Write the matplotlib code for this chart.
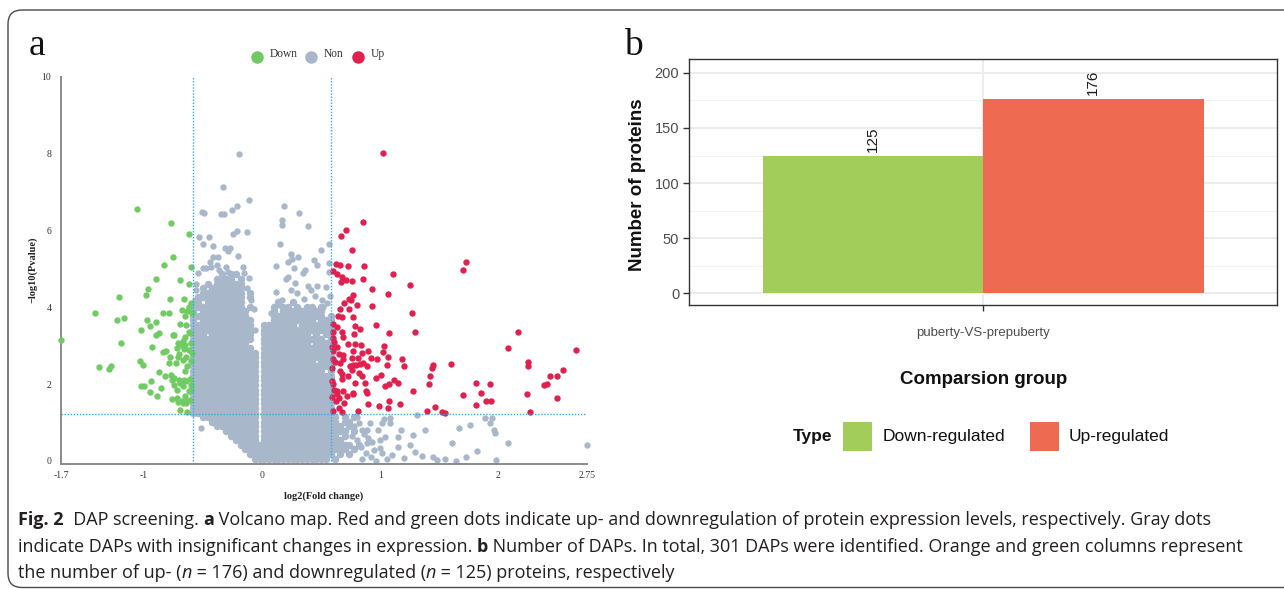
import matplotlib
matplotlib.use("Agg")
import matplotlib.pyplot as plt
from matplotlib.lines import Line2D
from matplotlib.patches import Rectangle, FancyBboxPatch
from matplotlib.transforms import IdentityTransform
from matplotlib import font_manager as fm

# ---------------- data ----------------
green_pts = [(-1.70,3.14),(-1.41,3.86),(-1.38,2.44),(-1.29,2.40),(-1.28,2.47),(-1.23,3.67),(-1.21,4.26),
    (-1.19,3.08),(-1.17,3.73),(-1.06,6.55),(-1.03,2.59),(-1.01,2.50),(-1.02,3.41),(-1.02,1.94),(-1.00,1.94),
    (-0.98,4.31),(-0.97,3.67),(-0.96,4.48),(-0.95,1.79),(-0.95,3.52),(-0.94,2.08),(-0.93,2.98),(-0.90,3.63),
    (-0.90,4.73),(-0.90,3.29),(-0.89,1.69),(-0.87,3.34),(-0.87,2.32),(-0.85,1.91),(-0.84,2.84),(-0.83,5.11),
    (-0.84,3.85),(-0.82,2.22),(-0.81,2.86),(-0.79,3.85),(-0.79,2.54),(-0.78,2.72),(-0.78,4.21),(-0.77,6.19),
    (-0.77,2.25),(-0.76,1.61),(-0.75,3.28),(-0.75,5.32),(-0.74,2.17),(-0.74,1.98),(-0.73,2.54),(-0.72,1.85),
    (-0.72,1.63),(-0.71,3.06),(-0.71,2.72),(-0.70,2.11),(-0.69,4.70),(-0.69,3.56),(-0.69,1.33),(-0.68,1.57),
    (-0.68,3.93),(-0.67,1.94),(-0.67,3.13),(-0.67,2.63),(-0.66,4.23),(-0.66,2.91),(-0.65,1.70),(-0.65,3.78),
    (-0.65,2.33),(-0.65,3.02),(-0.64,1.57),(-0.64,2.07),(-0.64,3.55),(-0.64,2.72),(-0.63,1.28),(-0.63,2.46),
    (-0.63,3.91),(-0.62,1.81),(-0.62,4.60),(-0.62,5.90),(-0.62,2.89),(-0.62,4.02),(-0.61,3.34),(-0.61,2.14),
    (-0.61,1.59),(-0.60,3.08),(-0.60,2.61),(-0.60,5.04),(-0.60,4.11),(-0.60,1.98),(-0.60,1.85),(-0.59,2.80),
    (-0.59,3.85),(-0.64,1.50),(-0.67,1.50),(-0.71,1.53),(-0.69,2.03),(-0.72,2.95),(-0.68,3.02),(-0.70,2.79),
    (-0.74,3.28),(-0.65,3.24),(-0.62,3.37),(-0.66,2.11),(-0.76,2.12)]

red_pts = [(0.859,6.23),(0.709,6.01),(0.669,5.86),(0.766,5.49),(0.627,5.13),(0.661,5.10),(0.732,5.08),
    (0.864,5.07),(0.599,4.96),(0.633,4.87),(0.675,4.78),(0.712,4.70),(0.760,4.69),(0.853,4.74),(0.667,4.66),
    (1.105,4.88),(1.698,4.97),(1.726,5.17),(0.929,4.49),(1.249,4.59),(1.07,4.36),(0.774,4.33),(0.740,4.23),
    (0.751,4.19),(0.698,4.12),(0.802,4.05),(0.737,3.96),(0.932,4.03),(0.661,3.95),(0.647,3.78),(0.675,3.74),
    (0.774,3.76),(1.271,3.86),(0.604,3.57),(0.633,3.50),(0.788,3.52),(0.831,3.43),(0.966,3.54),(1.294,3.37),
    (0.599,3.37),(0.675,3.37),(1.076,3.32),(0.780,3.30),(2.164,3.37),(0.599,3.19),(0.684,3.22),(0.613,3.11),
    (0.729,3.05),(0.785,3.05),(0.836,3.02),(1.034,3.00),(2.079,2.95),(2.661,2.90),(0.605,2.87),(0.653,2.79),
    (0.689,2.76),(0.768,2.87),(0.850,2.82),(0.898,2.86),(1.022,2.83),(0.599,2.65),(0.621,2.57),(0.661,2.54),
    (0.689,2.65),(0.760,2.67),(0.814,2.68),(0.859,2.56),(0.924,2.68),(0.977,2.66),(1.068,2.70),(1.184,2.65),
    (1.444,2.51),(1.441,2.42),(1.596,2.52),(2.254,2.57),(2.254,2.47),(1.198,2.46),(1.062,2.50),(0.746,2.46),
    (0.774,2.49),(0.797,2.51),(0.831,2.53),(0.890,2.46),(0.766,2.37),(0.661,2.33),(0.678,2.27),(0.819,2.28),
    (0.847,2.22),(0.729,2.20),(1.008,2.24),(0.961,2.16),(1.424,2.21),(2.441,2.22),(2.545,2.38),(2.500,2.21),
    (0.599,2.01),(0.675,2.13),(0.791,2.04),(0.870,2.02),(1.076,2.01),(1.113,2.11),(1.150,2.02),(1.412,2.00),
    (1.814,2.04),(1.927,2.01),(2.384,1.98),(2.412,2.01),(0.607,1.85),(0.633,1.83),(0.686,1.81),(0.638,1.74),
    (0.768,1.78),(0.881,1.83),(0.893,1.78),(1.045,1.94),(1.282,1.81),(1.850,1.78),(1.701,1.71),(2.240,1.75),
    (0.653,1.64),(0.718,1.68),(0.774,1.74),(0.624,1.57),(0.698,1.52),(0.898,1.47),(0.992,1.43),(1.065,1.39),
    (1.076,1.56),(1.164,1.49),(1.814,1.45),(1.898,1.57),(1.938,1.55),(2.492,1.64),(0.599,1.31),(0.655,1.37),
    (0.681,1.28),(0.814,1.31),(1.398,1.29),(1.460,1.41),(1.523,1.28),(1.551,1.26),(2.268,1.28),(0.590,1.66),
    (0.590,2.07),(0.596,2.41),(0.593,2.98),(0.633,2.98),(1.025,8.02)]

# scattered (non-significant) points outside the dense core
gray_pts = [(-0.195,7.99),(-0.333,7.14),(-0.113,6.80),(-0.21,6.64),(-0.25,6.54),(-0.35,6.42),(-0.32,6.42),
    (-0.511,6.49),(-0.49,6.45),(-0.21,6.00),(-0.249,5.90),(-0.124,5.97),(-0.53,5.84),(-0.45,5.84),(-0.50,5.64),
    (-0.41,5.60),(-0.31,5.54),(-0.29,5.47),(-0.27,5.54),(-0.20,5.35),(-0.37,5.32),(-0.41,5.32),(-0.44,5.19),
    (-0.50,5.02),(-0.47,5.03),(-0.43,5.04),(-0.54,4.90),(-0.38,5.10),(-0.36,4.97),(-0.30,5.06),(-0.285,4.93),
    (-0.16,5.04),(-0.107,4.76),(-0.155,4.90),(-0.56,4.45),(-0.57,4.20),(-0.13,4.50),(-0.09,4.20),(-0.56,4.62),
    (-0.514,0.87),
    (0.189,6.64),(0.314,6.45),(0.167,6.28),(0.172,6.15),(0.393,6.13),(0.153,5.66),(0.568,5.64),(0.497,5.49),
    (0.121,5.07),(0.246,5.39),(0.257,5.25),(0.308,5.32),(0.223,5.19),(0.438,5.23),(0.47,5.10),(0.568,5.15),
    (0.568,4.93),(0.364,4.97),(0.274,5.03),(0.20,4.73),(0.223,4.80),(0.393,4.56),(0.463,4.56),(0.54,4.54),
    (0.147,4.06),(0.167,4.18),(0.294,4.37),(0.359,4.21),(0.415,4.45),(0.28,4.63),(0.506,4.19),(0.548,4.11),
    (0.35,4.90),(0.575,4.30),(0.45,4.30),(0.25,4.45),(0.12,4.40),
    (1.316,1.20),(1.89,1.11),(1.95,1.11),(1.93,1.00),(1.96,0.81),(1.97,0.72),(1.67,0.85),(1.757,0.94),
    (1.38,0.81),(1.28,0.67),(1.08,1.00),(1.014,1.00),(0.986,0.81),(0.915,1.00),(0.887,0.81),(0.845,0.81),
    (0.93,0.50),(0.887,0.48),(1.04,0.62),(1.155,0.62),(1.15,0.37),(1.25,0.42),(1.297,0.24),(1.35,0.13),
    (1.45,0.11),(1.48,0.03),(1.545,0.06),(1.607,0.46),(1.726,0.11),(1.644,0.00),(1.819,0.27),(1.98,0.02),
    (2.08,0.46),(2.746,0.42),(1.014,0.20),(1.00,0.33),(0.966,0.00),(1.056,0.04),(0.80,1.15),(0.82,1.00),
    (0.78,0.90),(0.86,0.70),(0.90,0.60),(0.84,0.35),(0.88,0.20),(0.92,0.10),(0.80,0.55),(0.76,0.65),
    (0.95,0.28),(1.10,0.15),(1.20,0.08),(0.85,0.05),(1.00,0.55),(1.18,0.80),(1.03,1.10),(1.08,1.12),
    (-0.07,3.95),(-0.06,3.40),(0.08,3.85),(0.07,3.30),(-0.55,4.05),(0.52,4.00),(0.43,3.98)]

# dense non-significant core read as a map: '#' = points present in that cell
core_x0, core_dx = -0.58, 0.04      # log2 FC of first column, column step
core_y0, core_dy = 4.86, 0.12       # -log10 p of first row, row step
gray_core_map = [
    "......#.##",
    ".....####.#",
    "...#.######",
    "..#.#######",
    "..#########.#",
    ".##########.#",
    ".#.########.......#..#",
    "###########.#....#.##.#.##.#",
    "#.##########.....#.#########.",
    "############.....###########.#",
    "#.###########....#########.###",
    "#############..#######.#######",
    "#############..###############",
    "###.#########..##########.#.##",
    "#############..#############.#",
    "############...##########.####",
    "#############..###############",
    "##############.##############.",
    "##############.###############",
    "##############.###########.###",
    "##############.###############",
    "##############.#############.#",
    "##############.###############",
    "##############.###############",
    "##############.###############",
    "##############.###############",
    "##############.###############",
    "##############.###############",
    "##############.###############",
    "##############.###############",
    "##############.###############",
    "..############.################.#.#",
    "....##########.################.##",
    ".....#########.#################.#",
    ".......#######.##################.#",
    "........######.################.#.",
    ".........#####.#################",
    "..........########################.#",
    "...........######################.#",
    "............##################.#.#",
    ".............################.#",
]

fc_cut = 0.585          # log2(1.5)
p_cut = 1.22            # -log10 p threshold line as drawn
x_ticks = [-1.7, -1, 0, 1, 2, 2.75]
x_tick_labels = ["-1.7", "-1", "0", "1", "2", "2.75"]
y_ticks = [0, 2, 4, 6, 8, 10]
volcano_legend = ["Down", "Non", "Up"]

bar_types = ["Down-regulated", "Up-regulated"]
bar_counts = [125, 176]
bar_group = "puberty-VS-prepuberty"

caption_lines = [
    [("Fig. 2", "bold", "normal"), ("  DAP screening. ", "normal", "normal"), ("a", "bold", "normal"),
     (" Volcano map. Red and green dots indicate up- and downregulation of protein expression levels, respectively. Gray dots", "normal", "normal")],
    [("indicate DAPs with insignificant changes in expression. ", "normal", "normal"), ("b", "bold", "normal"),
     (" Number of DAPs. In total, 301 DAPs were identified. Orange and green columns represent", "normal", "normal")],
    [("the number of up- (", "normal", "normal"), ("n", "normal", "italic"), (" = 176) and downregulated (", "normal", "normal"),
     ("n", "normal", "italic"), (" = 125) proteins, respectively", "normal", "normal")],
]

# ---------------- figure ----------------
W, H = 1284, 589
fig = plt.figure(figsize=(W / 100, H / 100), dpi=100)
def fx(px): return px / W
def fy(py): return 1 - py / H

C_GREEN, C_GRAY, C_RED = "#6FCB62", "#A8B8CA", "#E0204E"
C_LINE = "#33A8E6"
SERIF = "Liberation Serif"
SANS = "Liberation Sans"

names = {f.name for f in fm.fontManager.ttflist}
CAP_FONT = next((n for n in ["Liberation Sans Narrow", "DejaVu Sans Condensed", "Open Sans", "Noto Sans"] if n in names), "DejaVu Sans")

# outer rounded frame
frame = FancyBboxPatch((8, H - 587.5), 1400, 577.5, boxstyle="round,pad=0,rounding_size=14",
                       transform=IdentityTransform(), fill=False, ec="#4a4a4a", lw=1.0)
fig.add_artist(frame)

# ---- panel a: volcano ----
ax = fig.add_axes([fx(61), fy(464), fx(587) - fx(61), fy(77) - fy(464)])
ax.set_xlim(-1.7, 2.75)
ax.set_ylim(-0.08, 10.0)

cx, cy = [], []
for r, row in enumerate(gray_core_map):
    for c, ch in enumerate(row):
        if ch == "#":
            cx.append(core_x0 + c * core_dx)
            cy.append(core_y0 - r * core_dy)
MS = 21
ax.scatter(cx, cy, s=29, c=C_GRAY, linewidths=0, clip_on=False, zorder=2)
ax.scatter([p[0] for p in gray_pts], [p[1] for p in gray_pts], s=MS, c=C_GRAY, linewidths=0, clip_on=False, zorder=2)
ax.scatter([p[0] for p in green_pts], [p[1] for p in green_pts], s=MS, c=C_GREEN, linewidths=0, clip_on=False, zorder=3)
ax.scatter([p[0] for p in red_pts], [p[1] for p in red_pts], s=MS, c=C_RED, linewidths=0, clip_on=False, zorder=3)

ax.axvline(-fc_cut, color=C_LINE, lw=1.0, ls=(0, (1, 1.2)), zorder=4)
ax.axvline(fc_cut, color=C_LINE, lw=1.0, ls=(0, (1, 1.2)), zorder=4)
ax.axhline(p_cut, color=C_LINE, lw=1.0, ls=(0, (1, 1.2)), zorder=4)

for s in ["top", "right"]:
    ax.spines[s].set_visible(False)
for s in ["left", "bottom"]:
    ax.spines[s].set_color("#8a8a8a")
    ax.spines[s].set_linewidth(1.4)
ax.set_xticks(x_ticks)
ax.set_xticklabels(x_tick_labels)
ax.set_yticks(y_ticks)
ax.tick_params(length=0, labelsize=7, labelcolor="#333333")
ax.tick_params(axis="x", pad=5)
ax.tick_params(axis="y", pad=7)
for lab in ax.get_xticklabels() + ax.get_yticklabels():
    lab.set_fontfamily(SERIF)
ax.set_xlabel("log2(Fold change)", fontfamily=SERIF, fontweight="bold", fontsize=7.5, labelpad=8, color="#222222")
fig.text(fx(33), fy(270), "\u2212log10(Pvalue)", rotation=90, ha="center", va="center",
         fontfamily=SERIF, fontweight="bold", fontsize=7.5, color="#222222")

# volcano legend
leg_cols = [C_GREEN, C_GRAY, C_RED]
leg_mx = [257, 311, 358]
leg_tx = [270, 324, 371]
for lbl, col, mx, tx in zip(volcano_legend, leg_cols, leg_mx, leg_tx):
    fig.add_artist(Line2D([fx(mx)], [fy(56.5)], transform=fig.transFigure, marker="o", ms=8,
                          mfc=col, mec=col, ls="none"))
    fig.text(fx(tx), fy(54), lbl, ha="left", va="center", fontfamily=SERIF, fontsize=8.3, color="#333333")

fig.text(fx(29), fy(55), "a", ha="left", va="baseline", fontfamily=SERIF, fontsize=27, color="#111111")
fig.text(fx(624), fy(55), "b", ha="left", va="baseline", fontfamily=SERIF, fontsize=27, color="#111111")

# ---- panel b: bars ----
ax2 = fig.add_axes([fx(689), fy(305), fx(1277) - fx(689), fy(59) - fy(305)])
ax2.set_xlim(0.4, 1.6)
ax2.set_ylim(-10.5, 212.5)
bar_cols = ["#A2CD5A", "#EE6A50"]
bw = 0.45
pos = [1 - bw / 2, 1 + bw / 2]
ax2.bar(pos, bar_counts, width=bw, color=bar_cols, zorder=3)
for p, v in zip(pos, bar_counts):
    ax2.text(p, v + 3.5, str(v), rotation=90, ha="center", va="bottom", fontfamily=SANS, fontsize=11, color="#1a1a1a", zorder=4)
ax2.set_axisbelow(True)
ax2.set_yticks([0, 50, 100, 150, 200])
ax2.set_yticks([25, 75, 125, 175], minor=True)
ax2.set_xticks([1])
ax2.set_xticklabels([bar_group])
ax2.grid(axis="y", which="major", color="#EBEBEB", lw=1.3, zorder=0)
ax2.grid(axis="y", which="minor", color="#F2F2F2", lw=0.7, zorder=0)
ax2.grid(axis="x", which="major", color="#EBEBEB", lw=1.3, zorder=0)
for s in ax2.spines.values():
    s.set_color("#333333")
    s.set_linewidth(1.0)
ax2.tick_params(which="major", length=4, width=1, color="#333333")
ax2.tick_params(which="minor", length=0)
ax2.tick_params(axis="y", labelsize=10.5, labelcolor="#4D4D4D", pad=3)
ax2.tick_params(axis="x", labelsize=9.5, labelcolor="#4D4D4D", pad=12)
for lab in ax2.get_xticklabels() + ax2.get_yticklabels():
    lab.set_fontfamily(SANS)

fig.text(fx(637), fy(185), "Number of proteins", rotation=90, ha="center", va="center",
         fontfamily=SANS, fontweight="bold", fontsize=13.5, color="#111111")
fig.text(fx(984), fy(380), "Comparsion group", ha="center", va="center",
         fontfamily=SANS, fontweight="bold", fontsize=13.5, color="#111111")

# bar legend
fig.text(fx(793), fy(437), "Type", ha="left", va="center", fontfamily=SANS, fontweight="bold", fontsize=12.5, color="#111111")
key_x = [843, 1030]
lab_x = [883, 1069]
for t, col, kx, lx in zip(bar_types, bar_cols, key_x, lab_x):
    fig.add_artist(Rectangle((fx(kx), fy(451)), fx(29), fy(422) - fy(451), transform=fig.transFigure,
                             facecolor=col, edgecolor="none"))
    fig.text(fx(lx), fy(437), t, ha="left", va="center", fontfamily=SANS, fontsize=12.5, color="#111111")

# ---- caption ----
renderer = fig.canvas.get_renderer()
def advance(s, size, weight, style):
    kw = dict(fontfamily=CAP_FONT, fontsize=size, fontweight=weight, fontstyle=style)
    t1 = fig.text(0, 0, "|" + s + "|", **kw)
    t2 = fig.text(0, 0, "||", **kw)
    w = t1.get_window_extent(renderer).width - t2.get_window_extent(renderer).width
    t1.remove(); t2.remove()
    return w

base = 12.0
fits = []
for line, target in zip(caption_lines[:2], [1221.0, 1222.0]):
    tot = sum(advance(s, base, w, st) for s, w, st in line)
    fits.append(base * target / tot)
cap_size = min(fits)
baselines = [525, 552, 578]
for line, yb in zip(caption_lines, baselines):
    xp = 18.0
    for s, w, st in line:
        fig.text(fx(xp), fy(yb), s, ha="left", va="baseline", fontfamily=CAP_FONT, fontsize=cap_size,
                 fontweight=w, fontstyle=st, color="#231F20")
        xp += advance(s, cap_size, w, st)

fig.savefig("out.png", dpi=100)
